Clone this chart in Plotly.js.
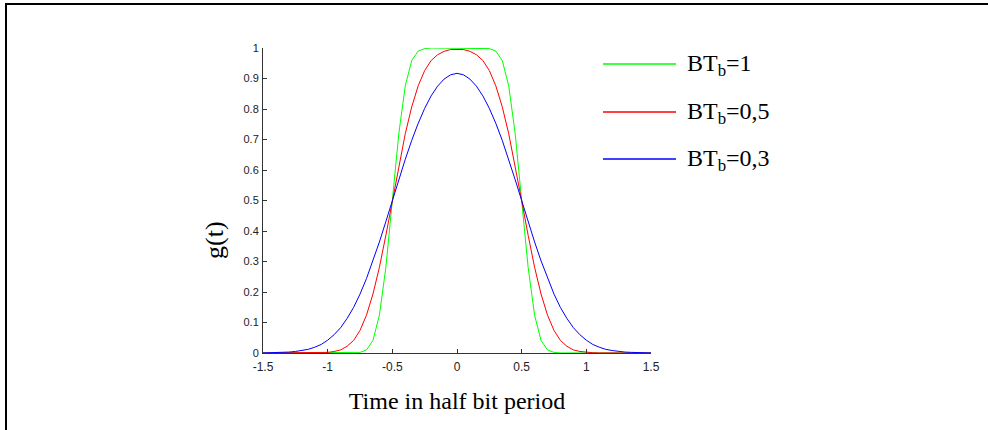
<!DOCTYPE html>
<html>
<head>
<meta charset="utf-8">
<script src="https://cdn.plot.ly/plotly-3.0.1.min.js"></script>
<style>
  html, body { margin: 0; padding: 0; background: #ffffff; }
  #wrap { position: relative; width: 988px; height: 430px; overflow: hidden; }
  #chart { position: absolute; left: 0; top: 0; width: 988px; height: 430px; }
  #frame { position: absolute; left: 5px; top: 3px; width: 990px; height: 440px;
           border-left: 2px solid #000; border-top: 2px solid #000; pointer-events: none; }
</style>
</head>
<body>
<div id="wrap">
  <div id="chart"></div>
  <div id="frame"></div>
</div>
<script>
// ---- data ----
const timeHalfBit = [-1.5,-1.45,-1.4,-1.35,-1.3,-1.25,-1.2,-1.15,-1.1,-1.05,-1,-0.95,-0.9,-0.85,-0.8,-0.75,-0.7,-0.65,-0.6,-0.55,-0.5,-0.45,-0.4,-0.35,-0.3,-0.25,-0.2,-0.15,-0.1,-0.05,0,0.05,0.1,0.15,0.2,0.25,0.3,0.35,0.4,0.45,0.5,0.55,0.6,0.65,0.7,0.75,0.8,0.85,0.9,0.95,1,1.05,1.1,1.15,1.2,1.25,1.3,1.35,1.4,1.45,1.5];

const gBT1 = [0,0,0,0,0,0,0,0,0,0,0,0,0,0,0.0003,0.002,0.010,0.041,0.124,0.281,0.500,0.719,0.876,0.959,0.990,0.998,1.000,1.000,1.000,1.000,1.000,1.000,1.000,1.000,1.000,0.998,0.990,0.959,0.876,0.719,0.500,0.281,0.124,0.041,0.010,0.002,0.0003,0,0,0,0,0,0,0,0,0,0,0,0,0,0];

const gBT05 = [0,0,0,0,0,0,0,0.0001,0.0003,0.001,0.002,0.005,0.010,0.022,0.041,0.074,0.124,0.193,0.281,0.386,0.500,0.614,0.719,0.807,0.876,0.926,0.959,0.978,0.989,0.995,0.996,0.995,0.989,0.978,0.959,0.926,0.876,0.807,0.719,0.614,0.500,0.386,0.281,0.193,0.124,0.074,0.041,0.022,0.010,0.005,0.002,0.001,0.0003,0.0001,0,0,0,0,0,0,0];

const gBT03 = [0.0003,0.0005,0.001,0.002,0.003,0.005,0.008,0.012,0.019,0.028,0.042,0.060,0.083,0.113,0.149,0.193,0.244,0.302,0.364,0.431,0.500,0.568,0.635,0.697,0.753,0.802,0.843,0.875,0.898,0.912,0.917,0.912,0.898,0.875,0.843,0.802,0.753,0.697,0.635,0.568,0.500,0.431,0.364,0.302,0.244,0.193,0.149,0.113,0.083,0.060,0.042,0.028,0.019,0.012,0.008,0.005,0.003,0.002,0.001,0.0005,0.0003];

const seriesNames = ['BT<sub>b</sub>=1', 'BT<sub>b</sub>=0,5', 'BT<sub>b</sub>=0,3'];
const xTickVals = [-1.5,-1,-0.5,0,0.5,1,1.5];
const xTickText = ['-1.5','-1','-0.5','0','0.5','1','1.5'];
const yTickVals = [0,0.1,0.2,0.3,0.4,0.5,0.6,0.7,0.8,0.9,1];
const yTickText = ['0','0.1','0.2','0.3','0.4','0.5','0.6','0.7','0.8','0.9','1'];
const xTitle = 'Time in half bit period';
const yTitle = 'g(t)';

// ---- styling / layout ----
const colors = ['#00ff00', '#ff0000', '#0000ff'];
const W = 988, H = 430;
const M = {l: 263, r: 337, t: 48, b: 77};
const PW = W - M.l - M.r, PH = H - M.t - M.b;
const px2x = p => (p - M.l) / PW;
const py2y = p => (H - M.b - p) / PH;
const serif = 'Liberation Serif, Times New Roman, serif';

const ys = [gBT1, gBT05, gBT03];
const traces = ys.map((y, i) => ({
  type: 'scatter', mode: 'lines', x: timeHalfBit, y: y, name: seriesNames[i],
  line: {color: colors[i], width: 1}, showlegend: false, hoverinfo: 'skip'
}));

const legendRows = [64, 112, 159];
const shapes = [];
const annotations = [];
legendRows.forEach((ry, i) => {
  shapes.push({type: 'line', xref: 'paper', yref: 'paper',
    x0: px2x(603), x1: px2x(676), y0: py2y(ry), y1: py2y(ry),
    line: {color: colors[i], width: 1.5}});
  annotations.push({xref: 'paper', yref: 'paper', x: px2x(685), y: py2y(ry + 1),
    xanchor: 'left', yanchor: 'middle', showarrow: false, text: seriesNames[i],
    font: {family: serif, size: 24, color: '#000'}});
});
annotations.push({xref: 'paper', yref: 'paper', x: px2x(215), y: py2y(240),
  xanchor: 'center', yanchor: 'middle', textangle: -90, showarrow: false, text: yTitle,
  font: {family: serif, size: 26, color: '#000'}});

const layout = {
  width: W, height: H,
  margin: M,
  paper_bgcolor: 'rgba(0,0,0,0)', plot_bgcolor: 'rgba(0,0,0,0)',
  showlegend: false,
  xaxis: {
    range: [-1.5, 1.5], tickvals: xTickVals, ticktext: xTickText,
    ticks: 'inside', ticklen: 4, tickcolor: '#333', tickwidth: 1,
    showline: true, linecolor: '#333', linewidth: 1, mirror: false,
    showgrid: false, zeroline: false, automargin: false,
    tickfont: {family: 'Liberation Sans, Arial, sans-serif', size: 12, color: '#222'},
    ticklabelstandoff: 3,
    title: {text: xTitle, standoff: 18,
      font: {family: serif, size: 24, color: '#000'}}
  },
  yaxis: {
    range: [0, 1], tickvals: yTickVals, ticktext: yTickText,
    ticks: 'inside', ticklen: 4, tickcolor: '#333', tickwidth: 1,
    showline: true, linecolor: '#333', linewidth: 1, mirror: false,
    showgrid: false, zeroline: false, automargin: false,
    tickfont: {family: 'Liberation Sans, Arial, sans-serif', size: 11, color: '#222'},
    ticklabelstandoff: 1
  },
  shapes: shapes,
  annotations: annotations
};

Plotly.newPlot('chart', traces, layout, {staticPlot: true, displayModeBar: false});
</script>
</body>
</html>
